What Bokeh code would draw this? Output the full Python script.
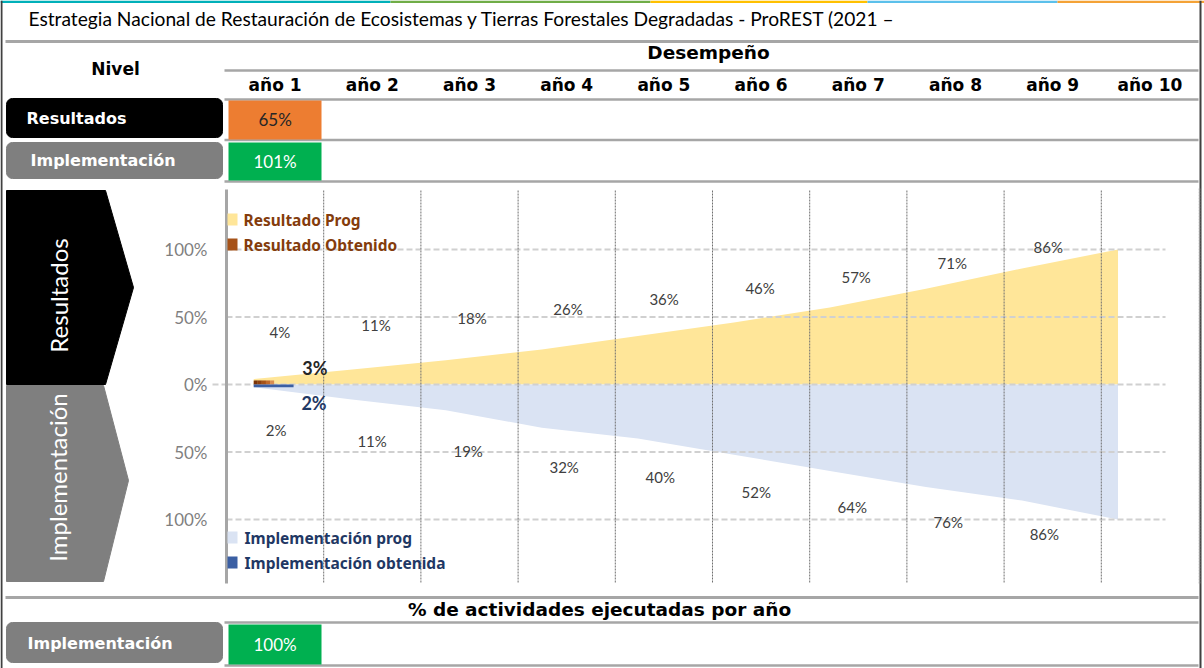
import math
from bokeh.plotting import figure
from bokeh.models import Range1d
from bokeh.core.properties import value
from bokeh.embed import file_html
from bokeh.resources import INLINE

# ---------------- data ----------------
title_text = "Estrategia Nacional de Restauración de Ecosistemas y Tierras Forestales Degradadas - ProREST (2021 –"
years = ["año 1", "año 2", "año 3", "año 4", "año 5", "año 6", "año 7", "año 8", "año 9", "año 10"]
resultado_prog = [4, 11, 18, 26, 36, 46, 57, 71, 86, 100]
implementacion_prog = [2, 11, 19, 32, 40, 52, 64, 76, 86, 100]
resultado_obtenido = [3]
implementacion_obtenida = [2]
tick_values = [100, 50, 0, -50, -100]
tick_labels = ["100%", "50%", "0%", "50%", "100%"]
resultados_anual = [65]
implementacion_anual = [101]
actividades_anual = [100]
legend_res = ["Resultado Prog", "Resultado Obtenido"]
legend_imp = ["Implementación prog", "Implementación obtenida"]

# ---------------- layout helpers ----------------
W, H = 1204, 668
AX0, COL = 226.0, 97.2          # pixel of the axis, pixel width of one year column
PZERO, PSCALE = 384.0, 1.35     # pixel of 0 %, pixels per %


def X(px):
    return (px - AX0) / COL


YELLOW = "#FFE699"
LBLUE = "#DAE3F3"
BROWN = "#843C0C"
NAVY = "#1F3864"
LINE = "#A6A6A6"
GRAYBOX = "#7F7F7F"
CAL = "Lato"

p = figure(width=W, height=H, x_range=Range1d(X(0), X(W)), y_range=Range1d(H, 0),
           output_backend="svg", toolbar_location=None, min_border=0,
           x_axis_type=None, y_axis_type=None)
p.outline_line_color = None
p.background_fill_color = "white"
p.border_fill_color = "white"
p.grid.visible = False
p.extra_y_ranges = {"pct": Range1d(start=-(H - PZERO) / PSCALE, end=PZERO / PSCALE)}


def txt(xs, ys, texts, size, color="black", font="DejaVu Sans", style="normal",
        align="center", baseline="middle", angle=0.0, yr="default"):
    p.text(x=xs, y=ys, text=texts, text_font=value(font), text_font_size=size,
           text_font_style=style, text_color=color, text_align=align,
           text_baseline=baseline, angle=angle, y_range_name=yr)


def rrect(x0, y0, x1, y1, r=6, n=6):
    pts = []
    corners = [(x1 - r, y0 + r, -90, 0), (x1 - r, y1 - r, 0, 90),
               (x0 + r, y1 - r, 90, 180), (x0 + r, y0 + r, 180, 270)]
    for cx, cy, a0, a1 in corners:
        for i in range(n + 1):
            a = math.radians(a0 + (a1 - a0) * i / n)
            pts.append((cx + r * math.cos(a), cy + r * math.sin(a)))
    return [X(a) for a, b in pts], [b for a, b in pts]


# ---------------- frame / top stripe ----------------
stripe = [(0, 390, "#00B0B9"), (390, 650, "#70AD47"), (650, 867, "#FFC000"),
          (867, 1057, "#5BC0EB"), (1057, 1204, "#F4A236")]
p.quad(left=[X(a) for a, b, c in stripe], right=[X(b) for a, b, c in stripe],
       top=[0] * len(stripe), bottom=[2.5] * len(stripe),
       color=[c for a, b, c in stripe], line_color=None)
p.segment(x0=[X(1), X(1200)], y0=[0, 0], x1=[X(1), X(1200)], y1=[H, H],
          line_color="#404040", line_width=2)

# ---------------- title ----------------
txt([X(28)], [18], [title_text], "19.2px", font=CAL, align="left")

# ---------------- header table ----------------
p.segment(x0=[X(5)], y0=[41], x1=[X(1198)], y1=[41], line_color=LINE, line_width=3)
p.segment(x0=[X(224)] * 4, y0=[70, 99, 139.5, 181], x1=[X(1198)] * 4, y1=[70, 99, 139.5, 181],
          line_color=LINE, line_width=2.5)
txt([X(115)], [68], ["Nivel"], "17px", style="bold")
txt([X(708)], [52], ["Desempeño"], "18.5px", style="bold")
txt([i + 0.5 for i in range(len(years))], [84] * len(years), years, "17px", style="bold")

bx, by = rrect(6, 98, 222, 137)
p.patch(bx, by, color="black")
bx, by = rrect(6, 142, 222, 178)
p.patch(bx, by, color=GRAYBOX)
txt([X(26)], [118], ["Resultados"], "16px", color="white", style="bold", align="left")
txt([X(30)], [160], ["Implementación"], "16px", color="white", style="bold", align="left")

n1 = len(resultados_anual)
p.quad(left=[X(228) + i for i in range(n1)], right=[X(321) + i for i in range(n1)],
       top=[100] * n1, bottom=[139] * n1, color="#ED7D31", line_color=None)
txt([i + 0.5 for i in range(n1)], [119] * n1, [f"{v}%" for v in resultados_anual], "17px",
    color="#262626", font=CAL)
n2 = len(implementacion_anual)
p.quad(left=[X(228) + i for i in range(n2)], right=[X(321) + i for i in range(n2)],
       top=[142] * n2, bottom=[180] * n2, color="#00B050", line_color=None)
txt([i + 0.5 for i in range(n2)], [161] * n2, [f"{v}%" for v in implementacion_anual], "17px",
    color="white", font=CAL)

# ---------------- left chevrons ----------------
p.patch([X(6), X(105), X(133), X(105), X(6)], [190, 190, 287, 384, 384], color="black")
p.patch([X(6), X(103), X(128), X(103), X(6)], [385, 385, 480, 581, 581], color=GRAYBOX)
txt([X(58)], [295], ["Resultados"], "24px", color="white", font=CAL, angle=math.pi / 2)
txt([X(57)], [477], ["Implementación"], "24px", color="white", font=CAL, angle=math.pi / 2)

# ---------------- chart ----------------
xs = [0.28 + 0.988 * k for k in range(len(resultado_prog))]

p.varea(x=xs, y1=[0] * len(xs), y2=resultado_prog, fill_color=YELLOW, y_range_name="pct")
p.varea(x=xs, y1=[-v for v in implementacion_prog], y2=[0] * len(xs), fill_color=LBLUE,
        y_range_name="pct")

# gridlines
p.segment(x0=[0] * len(tick_values), y0=tick_values, x1=[X(1165)] * len(tick_values),
          y1=tick_values, line_color="#D0D0D0", line_width=2, line_dash="6 3", y_range_name="pct")
p.segment(x0=[X(212)], y0=[0], x1=[0], y1=[0], line_color="#D0D0D0", line_width=2,
          line_dash="6 3", y_range_name="pct")
# vertical year separators
p.segment(x0=list(range(1, 10)), y0=[190] * 9, x1=list(range(1, 10)), y1=[582] * 9,
          line_color="#707070", line_width=1, line_dash="2 1")
p.segment(x0=[X(1199)], y0=[188], x1=[X(1199)], y1=[584], line_color="#9A9A9A",
          line_width=1.5, line_dash="2 1")
p.segment(x0=[0], y0=[189], x1=[0], y1=[583], line_color=LINE, line_width=3)

# obtained bars
ro = resultado_obtenido[0]
shades = ["#7A3308", "#8E400F", "#A65218", "#C06A2C", "#D98E52"]
w = 0.21 / len(shades)
p.quad(left=[xs[0] + i * w for i in range(len(shades))],
       right=[xs[0] + (i + 1) * w for i in range(len(shades))],
       bottom=[0] * len(shades), top=[ro] * len(shades), color=shades, line_color=None,
       y_range_name="pct")
io = implementacion_obtenida[0]
p.quad(left=[xs[0]], right=[xs[0] + 0.41], bottom=[-io], top=[0], color="#3B5FA3",
       line_color=None, y_range_name="pct")

# y tick labels
txt([X(207)] * len(tick_values), tick_values, tick_labels, "17px", color="#7F7F7F",
    font=CAL, align="right", yr="pct")

# data labels
nl = len(resultado_prog) - 1
txt([xs[k] + 0.27 for k in range(nl)], [35.7 + 0.77 * v for v in resultado_prog[:nl]],
    [f"{v}%" for v in resultado_prog[:nl]], "15px", color="#404040", font=CAL, yr="pct")
txt([xs[k] + 0.23 for k in range(nl)], [-(31.6 + 0.92 * v) for v in implementacion_prog[:nl]],
    [f"{v}%" for v in implementacion_prog[:nl]], "15px", color="#404040", font=CAL,
    yr="pct")
txt([xs[0] + 0.63], [ro + 9.5], [f"{ro}%"], "18px", color="#262626", font=CAL,
    style="bold", yr="pct")
txt([xs[0] + 0.62], [-(io + 11.5)], [f"{io}%"], "18px", color=NAVY, font=CAL,
    style="bold", yr="pct")

# legends (manual)
p.quad(left=[X(227)] * 2, right=[X(237)] * 2, top=[213, 238], bottom=[225, 250],
       color=[YELLOW, "#A65218"], line_color=None)
txt([X(243)] * 2, [219, 244], legend_res, "15.5px", color=BROWN, font="Noto Sans",
    style="bold", align="left")
p.quad(left=[X(227)] * 2, right=[X(237)] * 2, top=[531, 556], bottom=[543, 568],
       color=[LBLUE, "#3B5FA3"], line_color=None)
txt([X(244)] * 2, [537, 562], legend_imp, "15.5px", color=NAVY, font="Noto Sans",
    style="bold", align="left")

# ---------------- bottom table ----------------
p.segment(x0=[X(5)], y0=[597], x1=[X(1198)], y1=[597], line_color=LINE, line_width=3)
p.segment(x0=[X(224)] * 2, y0=[622, 665], x1=[X(1198)] * 2, y1=[622, 665],
          line_color=LINE, line_width=2.5)
txt([X(599)], [609], ["% de actividades ejecutadas por año"], "18.5px", style="bold")
bx, by = rrect(6, 622, 222, 662)
p.patch(bx, by, color=GRAYBOX)
txt([X(27)], [643], ["Implementación"], "16px", color="white", style="bold", align="left")
n3 = len(actividades_anual)
p.quad(left=[X(228) + i for i in range(n3)], right=[X(321) + i for i in range(n3)],
       top=[624] * n3, bottom=[664] * n3, color="#00B050", line_color=None)
txt([i + 0.5 for i in range(n3)], [644] * n3, [f"{v}%" for v in actividades_anual], "17px",
    color="white", font=CAL)

open("out.html", "w").write(file_html(p, INLINE))
